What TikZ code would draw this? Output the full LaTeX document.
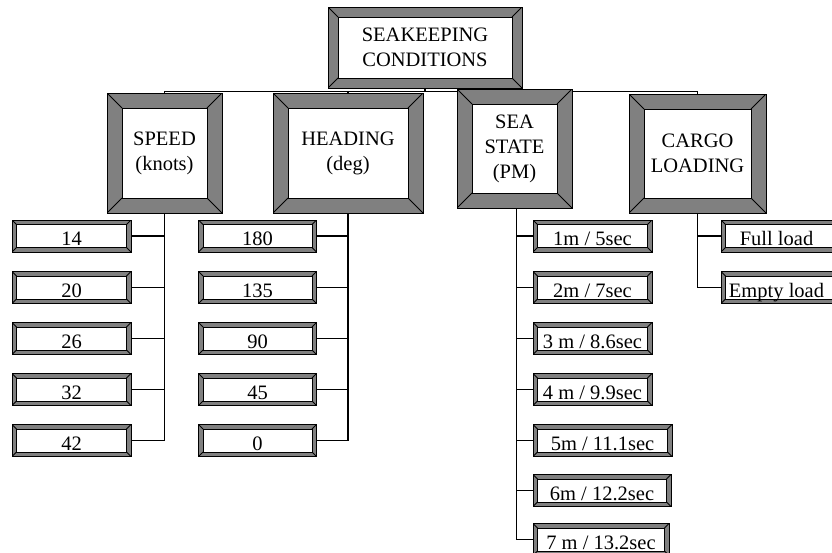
\documentclass[tikz,border=0pt]{standalone}
\usepackage{fontspec}
\setmainfont{Liberation Serif}
\definecolor{framegray}{HTML}{808080}
\begin{document}
\begin{tikzpicture}[x=1pt,y=-1pt,
  fw/.store in=\bevw, fw=15pt,
  bevel/.style={draw=black, line width=0.8pt, fill=framegray, inner sep=0pt,
    align=center, font=\fontsize{20.5}{25}\selectfont,
    path picture={
      \coordinate (bvsw) at (path picture bounding box.south west);
      \coordinate (bvse) at (path picture bounding box.south east);
      \coordinate (bvnw) at (path picture bounding box.north west);
      \coordinate (bvne) at (path picture bounding box.north east);
      \filldraw[fill=white, draw=black, line width=0.8pt]
        ([shift={(\bevw,\bevw)}]bvsw) rectangle ([shift={(-\bevw,-\bevw)}]bvne);
      \draw[black, line width=0.8pt]
        (bvsw) -- ++(\bevw,\bevw)
        (bvse) -- ++(-\bevw,\bevw)
        (bvnw) -- ++(\bevw,-\bevw)
        (bvne) -- ++(-\bevw,-\bevw);
    }},
  group/.style={bevel, fw=15pt},
  leaf/.style={bevel, fw=4.5pt, minimum height=32pt, text height=19pt, text depth=0pt},
  conn/.style={draw=black, line width=1.1pt}
]
\useasboundingbox (0,0) rectangle (832,552);
\clip (0,0) rectangle (832,552);

% root
\node[bevel, fw=10pt, minimum width=194pt, minimum height=81pt] (root) at (425,47.5)
  {SEAKEEPING\\CONDITIONS};

% second level
\node[group, minimum width=115pt, minimum height=120pt] (speed) at (164.5,153) {SPEED\\(knots)};
\node[group, minimum width=150pt, minimum height=120pt] (heading) at (348,153) {HEADING\\(deg)};
\node[group, minimum width=137pt, minimum height=119pt] (cargo) at (697.5,153.5) {CARGO\\LOADING};

% bus
\draw[conn] (root.south) -- ++(0,-3pt) coordinate (busmid);
\draw[conn] (speed.north) -- (speed.north |- busmid) -| (cargo.north);
\draw[conn] (heading.north) -- (heading.north |- busmid);

\node[group, minimum width=115pt, minimum height=119pt] (sea) at (514.5,148.5) {SEA\\STATE\\(PM)};

% speed leaves
\node[leaf, minimum width=119pt] (s1) at (71.5,236) {14};
\node[leaf, minimum width=119pt] (s2) at (71.5,287.5) {20};
\node[leaf, minimum width=119pt] (s3) at (71.5,338.5) {26};
\node[leaf, minimum width=119pt] (s4) at (71.5,389.5) {32};
\node[leaf, minimum width=119pt] (s5) at (71.5,440.5) {42};
\foreach \i in {1,...,5} \draw[conn] (speed.south) |- (s\i.east);

% heading leaves
\node[leaf, minimum width=118pt] (h1) at (257.5,236) {180};
\node[leaf, minimum width=118pt] (h2) at (257.5,287.5) {135};
\node[leaf, minimum width=118pt] (h3) at (257.5,338.5) {90};
\node[leaf, minimum width=118pt] (h4) at (257.5,389.5) {45};
\node[leaf, minimum width=118pt] (h5) at (257.5,440.5) {0};
\foreach \i in {1,...,5} \draw[conn] (heading.south) |- (h\i.east);

% sea state leaves
\node[leaf, minimum width=119pt] (p1) at (592.5,236) {1m / 5sec};
\node[leaf, minimum width=119pt] (p2) at (592.5,287.5) {2m / 7sec};
\node[leaf, minimum width=119pt] (p3) at (592.5,338.5) {3 m / 8.6sec};
\node[leaf, minimum width=119pt] (p4) at (592.5,389.5) {4 m / 9.9sec};
\node[leaf, minimum width=139pt] (p5) at (602.5,440.5) {5m / 11.1sec};
\node[leaf, minimum width=138pt] (p6) at (602,490.5) {6m / 12.2sec};
\node[leaf, minimum width=136pt] (p7) at (601,539.5) {7 m / 13.2sec};
\foreach \i in {1,...,7} \draw[conn] ([xshift=2pt]sea.south) |- (p\i.west);

% cargo leaves
\node[leaf, minimum width=125pt] (c1) at (783.5,236) {Full load\hspace{14pt}};
\node[leaf, minimum width=125pt] (c2) at (783.5,287.5) {Empty load\hspace{14pt}};
\foreach \i in {1,2} \draw[conn] (cargo.south) |- (c\i.west);
\end{tikzpicture}
\end{document}
